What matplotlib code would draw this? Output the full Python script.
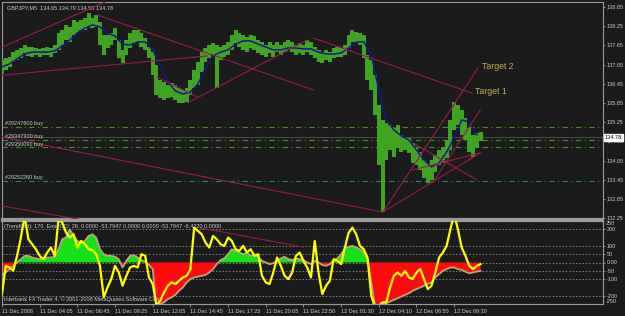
import numpy as np
import matplotlib.pyplot as plt
from matplotlib.transforms import blended_transform_factory

# ---- data (GBPJPY M5, 11-12 Dec 2008) ----
highs = [137.19, 137.26, 137.29, 137.44, 137.51, 137.57, 137.66, 137.60, 137.60, 137.57,
         137.54, 137.57, 137.60, 137.57, 137.66, 138.04, 138.13, 138.29, 138.23, 138.44,
         138.38, 138.44, 138.51, 138.66, 138.51, 138.60, 138.38, 137.97, 137.97, 138.04,
         138.19, 137.82, 137.51, 137.82, 138.04, 138.13, 138.13, 138.04, 137.88, 137.60,
         137.44, 137.04, 136.57, 136.51, 136.41, 136.48, 136.41, 136.32, 136.26, 136.32,
         136.57, 136.88, 137.13, 137.44, 137.57, 137.66, 137.73, 137.66, 137.60, 137.66,
         137.76, 137.97, 138.13, 138.04, 137.97, 137.91, 137.97, 137.94, 137.82, 137.76,
         137.66, 137.76, 137.66, 137.76, 137.66, 137.76, 137.82, 137.76, 137.66, 137.73,
         137.66, 137.82, 137.76, 137.60, 137.51, 137.44, 137.51, 137.44, 137.57, 137.60,
         137.57, 137.66, 137.97, 138.13, 138.07, 138.04, 137.97, 137.35, 137.19, 136.73,
         135.79, 135.32, 135.23, 135.16, 135.07, 135.16, 134.85, 134.79, 134.76, 134.60,
         134.48, 134.32, 134.07, 133.97, 134.07, 134.22, 134.38, 134.48, 134.69, 135.32,
         135.88, 135.79, 135.63, 135.38, 135.07, 134.85, 134.91, 134.93]
lows = [136.79, 136.88, 136.97, 137.13, 137.19, 137.26, 137.41, 137.32, 137.29, 137.35,
        137.29, 137.35, 137.35, 137.29, 137.41, 137.51, 137.66, 137.82, 137.76, 137.97,
        138.04, 138.13, 138.13, 138.23, 138.19, 138.23, 137.66, 137.35, 137.57, 137.66,
        137.82, 137.26, 137.10, 137.35, 137.57, 137.73, 137.76, 137.60, 137.51, 137.26,
        136.73, 136.10, 136.01, 135.94, 136.01, 136.04, 135.94, 135.85, 135.85, 135.88,
        136.10, 136.32, 136.41, 136.82, 137.13, 137.26, 137.35, 136.32, 137.19, 137.29,
        137.35, 137.51, 137.73, 137.60, 137.51, 137.44, 137.57, 137.51, 137.41, 137.35,
        137.29, 137.41, 137.29, 137.44, 137.35, 137.44, 137.51, 137.44, 137.35, 137.41,
        137.35, 137.44, 137.35, 137.26, 137.13, 137.10, 137.19, 137.13, 137.26, 137.29,
        137.29, 137.35, 137.57, 137.76, 137.73, 137.66, 137.26, 136.57, 136.26, 135.47,
        133.91, 132.44, 134.07, 134.38, 134.16, 134.44, 134.32, 134.38, 134.29, 133.97,
        133.91, 133.76, 133.51, 133.35, 133.44, 133.69, 133.91, 133.97, 134.13, 134.38,
        135.01, 135.16, 134.85, 134.69, 134.32, 134.16, 134.44, 134.66]

# moving average, one value every second bar
ma_values = [136.98, 137.07, 137.23, 137.38, 137.44, 137.44, 137.44, 137.48, 137.63, 137.82,
             138.04, 138.19, 138.29, 138.23, 138.04, 137.94, 137.69, 137.66, 137.76, 137.76,
             137.51, 137.01, 136.51, 136.23, 136.13, 136.19, 136.44, 136.94, 137.32, 137.44,
             137.51, 137.69, 137.79, 137.79, 137.69, 137.60, 137.51, 137.51, 137.57, 137.57,
             137.54, 137.54, 137.44, 137.38, 137.38, 137.41, 137.57, 137.76, 137.76, 137.35,
             136.26, 135.32, 135.01, 134.82, 134.69, 134.38, 134.07, 133.85, 133.98, 134.32,
             134.76, 135.32, 135.26, 134.85]

# indicator window
cci_fast = [-190, -20, -30, -50, 40, 150, 280, 140, 110, 80, 40, 20, 60, 90, 40, 260, 240, 180,
            150, 170, 90, 130, 110, 80, 75, 50, -20, -210, -150, -100, -20, -60, -140, -80, -30,
            -20, -30, 50, 40, -90, -130, -260, -230, -180, -140, -120, -130, -110, -90, -80, -40,
            210, 190, 170, 120, 90, 160, 140, 110, 100, 150, 130, 80, 70, 100, 60, 80, 40, 50,
            -80, -120, -130, -60, 30, -20, -80, -100, -60, 40, 60, 10, -30, -90, 130, -60, -190,
            -140, -110, 20, 10, -10, 90, 180, 210, 170, 100, 80, 30, -200, -270, -260, -240,
            -240, -150, -80, -60, -80, -50, -90, -100, -60, -40, -100, -160, -140, -60, 30, 60,
            100, 200, 290, 200, 90, 40, -20, -40, -20, -10]
cci_trend = [-80, -60, -40, -20, 0, 20, 40, 40, 30, 25, 20, 25, 30, 30, 35, 80, 140, 150, 200,
             160, 130, 120, 130, 160, 170, 150, 80, 50, 40, 40, 35, 20, -30, 10, 40, 45, 30, 15,
             5, -15, -40, -260, -250, -240, -220, -210, -195, -170, -150, -120, -100, -90, -85,
             -80, -75, -60, -40, -10, 15, 25, 50, 80, 70, 60, 50, 60, 40, 50, 35, 10, 0, -10, -5,
             10, 25, 35, 20, 15, 25, 20, 15, 0, -10, 10, 0, -15, -20, -10, 15, 25, 50, 85, 95,
             100, 90, 80, 60, 20, -120, -260, -260, -250, -245, -235, -225, -215, -205, -195,
             -185, -170, -160, -150, -140, -130, -120, -90, -70, -50, -40, -30, -30, -40, -45,
             -55, -65, -60, -55, -50]

time_labels = ['11 Dec 2008', '11 Dec 04:05', '11 Dec 06:45', '11 Dec 09:25', '11 Dec 12:05',
               '11 Dec 14:45', '11 Dec 17:25', '11 Dec 20:05', '11 Dec 22:50', '12 Dec 01:30',
               '12 Dec 04:10', '12 Dec 06:50', '12 Dec 09:30']
price_ticks = [138.85, 138.25, 137.65, 137.05, 136.45, 135.85, 135.25, 134.65, 134.05,
               133.45, 132.85, 132.25]
cci_ticks = [200, 100, 50, 0, -50, -100, -200]
cci_tick_labels = ['200', '100', '50', '0.00', '-50', '-100', '-200']

last_price = 134.78
order_names = ['#29247600 buy', '#29347900 buy', '#29350091 buy', '#29252260 buy']
order_prices = [135.09, 134.69, 134.46, 133.42]
order_colors = ['#3f8f26', '#3f8f26', '#3f8f26', '#1d7f7f']

# trendlines (bar, price) -> (bar, price)
tl_bar0 = [0.1, 25.3, 0.1, 41.2, 49.2, 82.6, 0.1, 0.1, 101.1, 114.4, 101.1, 109.1, 109.1]
tl_p0 = [137.60, 138.60, 136.72, 136.66, 135.85, 137.88, 134.79, 132.63, 132.44, 133.38,
         132.44, 134.60, 133.76]
tl_bar1 = [27.4, 82.6, 54.5, 51.8, 81.0, 124.7, 101.1, 24.7, 126.3, 126.9, 126.9, 126.1, 126.9]
tl_p1 = [139.01, 136.26, 137.32, 136.04, 137.82, 136.16, 132.44, 132.13, 136.94, 135.63,
         134.29, 133.44, 134.29]
ind_tl_bar = [52.7, 79.9]
ind_tl_val = [208, 93]

target_names = ['Target 2', 'Target 1']
target_bar = [127.4, 125.5]
target_price = [136.99, 136.21]

BG = '#1b1b1b'
FG = '#c8c8c8'
BORDER = '#9a9a9a'
TREND = '#9c1a48'
plt.rcParams['font.family'] = ['Liberation Sans', 'DejaVu Sans']
FS = 4.0

fig = plt.figure(figsize=(6.25, 3.16), dpi=100, facecolor=BG)
ax = fig.add_axes([2 / 625, 1 - 219 / 316, 601 / 625, 217 / 316], facecolor=BG)
ax2 = fig.add_axes([2 / 625, 1 - 304 / 316, 601 / 625, 83 / 316], facecolor=BG, sharex=ax)

bars = np.arange(len(highs))
ax.set_xlim(0, 159.5)
ax.set_ylim(132.225, 139.006)

# price bars and moving average
ax.vlines(bars, lows, highs, color='#3fa41f', lw=2.9, zorder=3)
ax.plot(bars[::2][:len(ma_values)], ma_values, color='#17178f', lw=1.1, zorder=4)

# trendlines
for b0, p0, b1, p1 in zip(tl_bar0, tl_p0, tl_bar1, tl_p1):
    ax.plot([b0, b1], [p0, p1], color=TREND, lw=0.8, zorder=5)

# orders and current price
ax.axhline(last_price, color='#4a4a4a', lw=0.7, zorder=1)
trans = blended_transform_factory(ax.transAxes, ax.transData)
for name, p, c in zip(order_names, order_prices, order_colors):
    ax.axhline(p, color=c, lw=0.8, ls=(0, (5, 3, 1, 3)), zorder=2)
    ax.text(0.005, p + 0.03, name, transform=trans, color=FG, fontsize=FS, va='bottom', zorder=6)
ax.text(1.003, last_price, '%.2f' % last_price, transform=trans, color='black', fontsize=FS,
        va='center', ha='left', zorder=7, clip_on=False,
        bbox=dict(boxstyle='square,pad=0.15', fc='white', ec='white'))

for name, b, p in zip(target_names, target_bar, target_price):
    ax.text(b, p, name, color='#bdb24c', fontsize=6.3, va='center', ha='left', zorder=6)

ax.text(0.008, 0.985, 'GBPJPY,M5  134.65 134.79 134.58 134.78', transform=ax.transAxes,
        color=FG, fontsize=FS, va='top', ha='left')

ax.yaxis.tick_right()
ax.set_yticks(price_ticks)
ax.set_yticklabels(['%.2f' % p for p in price_ticks])
ax.tick_params(axis='y', direction='out', length=1.5, width=0.6, colors=BORDER,
               labelcolor=FG, labelsize=FS, pad=1)
ax.tick_params(axis='x', bottom=False, labelbottom=False)

# indicator window
ax2.set_ylim(-250, 250)
for lv in cci_ticks:
    ax2.axhline(lv, color='#8a8a8a', lw=0.6, ls=(0, (2, 2)), zorder=1)
ct = np.array(cci_trend, dtype=float)
ax2.fill_between(bars, 0, ct, where=ct >= 0, interpolate=True, color='#16e016', lw=0, zorder=2)
ax2.fill_between(bars, 0, ct, where=ct <= 0, interpolate=True, color='#ff0a0a', lw=0, zorder=2)
ax2.plot(bars, cci_trend, color='#b9a57c', lw=1.3, zorder=3)
ax2.plot(bars, cci_fast, color='#ffff00', lw=1.6, zorder=4)
ax2.plot(ind_tl_bar, ind_tl_val, color=TREND, lw=0.8, zorder=5)

ax2.yaxis.tick_right()
ax2.set_yticks(cci_ticks)
ax2.set_yticklabels(cci_tick_labels)
ax2.tick_params(axis='y', direction='out', length=1.5, width=0.6, colors=BORDER,
                labelcolor=FG, labelsize=FS, pad=1)
trans2 = blended_transform_factory(ax2.transAxes, ax2.transData)
ax2.text(1.005, 250, '250', transform=trans2, color=FG, fontsize=FS, va='top', clip_on=False)
ax2.text(1.005, -250, '-250', transform=trans2, color=FG, fontsize=FS, va='bottom', clip_on=False)

ax2.set_xticks(np.arange(0, 10 * len(time_labels), 10))
ax2.set_xticklabels(time_labels, ha='left')
ax2.tick_params(axis='x', direction='out', length=2.5, width=0.6, colors=BORDER,
                labelcolor=FG, labelsize=FS, pad=1)

ax2.text(0.003, 0.96, '(TrendCCI): 170, EntryCCI: 28, 0.0000 -53.7947 0.0000 0.0000 '
         '-53.7947 -6.4220 0.0000', transform=ax2.transAxes, color=FG, fontsize=FS,
         va='top', ha='left', zorder=6)
ax2.text(0.003, 0.03, 'Interbank FX Trader 4, \u00a9 2001-2008 MetaQuotes Software Corp.',
         transform=ax2.transAxes, color=FG, fontsize=FS, va='bottom', ha='left', zorder=6)

for a in (ax, ax2):
    for s in a.spines.values():
        s.set_color(BORDER)
        s.set_linewidth(0.8)
ax.spines['bottom'].set_linewidth(1.6)
ax2.spines['top'].set_linewidth(1.6)

fig.savefig('out.png', dpi=100, facecolor=BG)
